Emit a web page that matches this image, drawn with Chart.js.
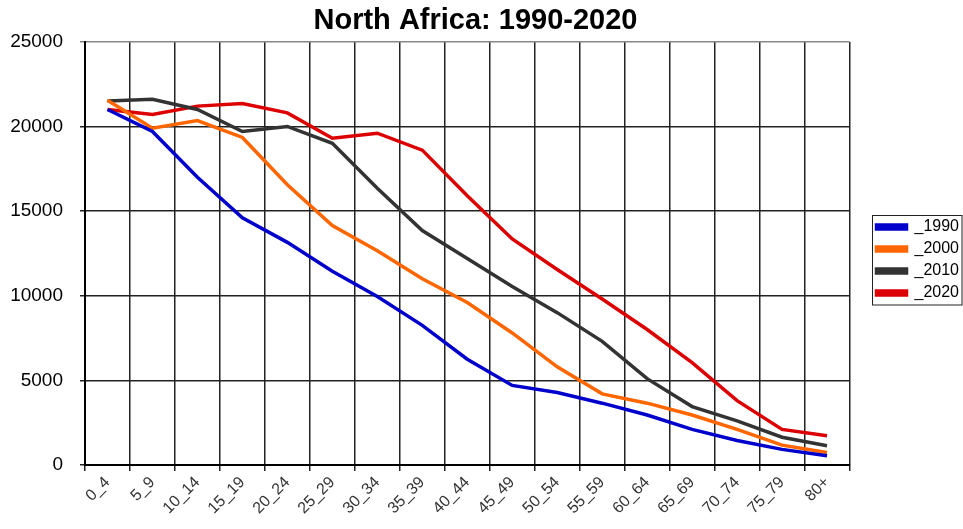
<!DOCTYPE html>
<html>
<head>
<meta charset="utf-8">
<script src="https://cdn.jsdelivr.net/npm/chart.js@4.4.1/dist/chart.umd.min.js"></script>
<style>
    html, body { margin: 0; padding: 0; background: #fff; }
    canvas { display: block; }
</style>
</head>
<body>
<canvas id="popChart" width="963" height="529"></canvas>
<script>
// Age groups (x axis)
const ageGroups = ['0_4', '5_9', '10_14', '15_19', '20_24', '25_29', '30_34', '35_39', '40_44',
    '45_49', '50_54', '55_59', '60_64', '65_69', '70_74', '75_79', '80+'];

// Population by year
const pop1990 = [21000, 19700, 17000, 14600, 13150, 11450, 9950, 8250, 6250, 4700, 4280, 3650, 2950, 2100, 1450, 920, 540];
const pop2000 = [21550, 19900, 20350, 19350, 16550, 14150, 12650, 11000, 9600, 7800, 5800, 4200, 3650, 2950, 2100, 1170, 740];
const pop2010 = [21500, 21600, 21000, 19700, 20000, 19000, 16350, 13850, 12200, 10550, 9000, 7300, 5100, 3450, 2600, 1640, 1130];
const pop2020 = [21000, 20700, 21200, 21350, 20800, 19300, 19600, 18600, 15900, 13350, 11550, 9800, 8000, 6050, 3800, 2100, 1720];

// Y tick labels
const yTickValues = [0, 5000, 10000, 15000, 20000, 25000];

const fontFamily = '"Liberation Sans", Arial, sans-serif';

// legend width tweak, and how far the legend entries move right afterwards
const legendGap = -5;
const legendShift = 21;

// Legend: leave a gap on its left and draw a thin frame round it
const legendFrame = {
    id: 'legendFrame',
    afterInit(chart) {
        const lg = chart.legend;
        const fit = lg.fit;
        lg.fit = function () {
            fit.call(this);
            this.width += legendGap;
        };
    },
    afterUpdate(chart) {
        const lg = chart.legend;
        lg.left += legendShift;
        lg.right = chart.width;
        lg.width = lg.right - lg.left;
        lg.legendHitBoxes.forEach(b => { b.left += legendShift; });
    },
    afterDraw(chart) {
        const boxes = chart.legend && chart.legend.legendHitBoxes;
        if (!boxes || !boxes.length) return;
        const left = Math.min(...boxes.map(b => b.left));
        const firstMid = boxes[0].top + boxes[0].height / 2;
        const last = boxes[boxes.length - 1];
        const lastMid = last.top + last.height / 2;
        const ctx = chart.ctx;
        ctx.save();
        ctx.strokeStyle = '#222';
        ctx.lineWidth = 1;
        const x0 = Math.round(left - 5) + 0.5;
        const y0 = Math.round(firstMid - 12) + 0.5;
        ctx.strokeRect(x0, y0, chart.width - 1 - x0, Math.round(lastMid + 12) - y0);
        ctx.restore();
    }
};

function series(label, data, color) {
    return {
        label: label,
        data: data,
        borderColor: color,
        backgroundColor: color,
        borderWidth: 3.5,
        pointRadius: 0,
        pointHoverRadius: 0,
        tension: 0,
        fill: false
    };
}

const popChart = new Chart(document.getElementById('popChart'), {
    type: 'line',
    data: {
        labels: ageGroups,
        datasets: [
            series('_1990', pop1990, '#0000cc'),
            series('_2000', pop2000, '#ff6600'),
            series('_2010', pop2010, '#333333'),
            series('_2020', pop2020, '#dd0000')
        ]
    },
    options: {
        responsive: false,
        animation: false,
        layout: {
            autoPadding: false,
            padding: { left: 8, right: 20, top: 0, bottom: 9 }
        },
        plugins: {
            title: {
                display: true,
                text: 'North Africa: 1990-2020',
                color: '#000',
                font: { family: fontFamily, size: 29, weight: 'bold' },
                padding: { top: 4, bottom: 3 }
            },
            legend: {
                position: 'right',
                labels: {
                    boxWidth: 30,
                    boxHeight: 4,
                    padding: 6,
                    color: '#000',
                    font: { family: fontFamily, size: 16 }
                }
            },
            tooltip: { enabled: false }
        },
        scales: {
            x: {
                offset: true,
                grid: {
                    offset: true,
                    color: ctx => ctx.index === ageGroups.length ? '#888' : '#222',
                    lineWidth: 1.5,
                    tickLength: 6
                },
                border: { color: '#000', width: 2 },
                ticks: {
                    autoSkip: false,
                    minRotation: 45,
                    maxRotation: 45,
                    color: '#333',
                    font: { family: fontFamily, size: 16 },
                    padding: 2
                }
            },
            y: {
                min: 0,
                max: 25000,
                afterBuildTicks: axis => {
                    axis.ticks = yTickValues.map(v => ({ value: v }));
                },
                afterFit: axis => {
                    axis.width = 77;
                },
                grid: {
                    color: ctx => ctx.tick && ctx.tick.value === 25000 ? '#888' : '#222',
                    lineWidth: 1.5,
                    tickLength: 5
                },
                border: { color: '#000', width: 2 },
                ticks: {
                    color: '#000',
                    padding: 17,
                    font: { family: fontFamily, size: 19 },
                    callback: value => String(value)
                }
            }
        }
    },
    plugins: [legendFrame]
});
</script>
</body>
</html>
